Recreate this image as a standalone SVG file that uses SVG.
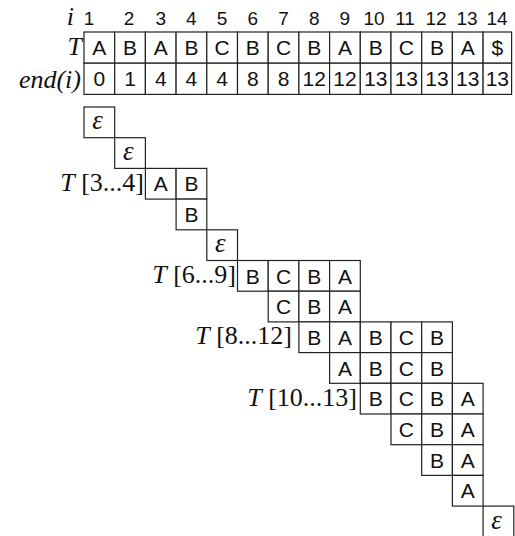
<svg xmlns="http://www.w3.org/2000/svg" width="515" height="536" viewBox="0 0 515 536">
<style>
rect.c{fill:#fff;stroke:#222;stroke-width:1.2}
text{fill:#111}
.l{font-family:"Liberation Sans",Arial,sans-serif;font-size:21px;text-anchor:middle}
.n{font-family:"Liberation Sans",Arial,sans-serif;font-size:19px;text-anchor:middle}
.s{font-family:"Liberation Serif","Times New Roman",serif;font-size:26px;text-anchor:end}
.it{font-style:italic}
.e{font-family:"Liberation Serif","Times New Roman",serif;font-size:27px;font-style:italic;text-anchor:middle}
</style>
<rect width="515" height="536" fill="#fff"/>
<g id="index-row">
<text class="s it" x="74" y="25" font-size="25">i</text>
<text class="n" x="89" y="25">1</text><text class="n" x="129" y="25">2</text><text class="n" x="160.7" y="25">3</text><text class="n" x="191.4" y="25">4</text><text class="n" x="222.1" y="25">5</text><text class="n" x="252.8" y="25">6</text><text class="n" x="283.5" y="25">7</text><text class="n" x="314.2" y="25">8</text><text class="n" x="344.9" y="25">9</text><text class="n" x="374" y="25">10</text><text class="n" x="405" y="25">11</text><text class="n" x="436" y="25">12</text><text class="n" x="467" y="25">13</text><text class="n" x="497" y="25">14</text>
</g>
<g id="T-row">
<text class="s it" x="82" y="55">T</text>
<rect class="c" x="84" y="32" width="30.7" height="31.2"/><rect class="c" x="114.7" y="32" width="30.7" height="31.2"/><rect class="c" x="145.4" y="32" width="30.7" height="31.2"/><rect class="c" x="176.1" y="32" width="30.7" height="31.2"/><rect class="c" x="206.8" y="32" width="30.7" height="31.2"/><rect class="c" x="237.5" y="32" width="30.7" height="31.2"/><rect class="c" x="268.2" y="32" width="30.7" height="31.2"/><rect class="c" x="298.9" y="32" width="30.7" height="31.2"/><rect class="c" x="329.6" y="32" width="30.7" height="31.2"/><rect class="c" x="360.3" y="32" width="30.7" height="31.2"/><rect class="c" x="391" y="32" width="30.7" height="31.2"/><rect class="c" x="421.7" y="32" width="30.7" height="31.2"/><rect class="c" x="452.4" y="32" width="30.7" height="31.2"/><rect class="c" x="483.1" y="32" width="28.5" height="31.2"/>
<text class="l" x="99.35" y="55">A</text><text class="l" x="130.05" y="55">B</text><text class="l" x="160.75" y="55">A</text><text class="l" x="191.45" y="55">B</text><text class="l" x="222.15" y="55">C</text><text class="l" x="252.85" y="55">B</text><text class="l" x="283.55" y="55">C</text><text class="l" x="314.25" y="55">B</text><text class="l" x="344.95" y="55">A</text><text class="l" x="375.65" y="55">B</text><text class="l" x="406.35" y="55">C</text><text class="l" x="437.05" y="55">B</text><text class="l" x="467.75" y="55">A</text><text class="l" x="497.35" y="55">$</text>
</g>
<g id="end-row">
<text class="s it" x="81" y="88">end(i)</text>
<rect class="c" x="84" y="63.2" width="30.7" height="31.2"/><rect class="c" x="114.7" y="63.2" width="30.7" height="31.2"/><rect class="c" x="145.4" y="63.2" width="30.7" height="31.2"/><rect class="c" x="176.1" y="63.2" width="30.7" height="31.2"/><rect class="c" x="206.8" y="63.2" width="30.7" height="31.2"/><rect class="c" x="237.5" y="63.2" width="30.7" height="31.2"/><rect class="c" x="268.2" y="63.2" width="30.7" height="31.2"/><rect class="c" x="298.9" y="63.2" width="30.7" height="31.2"/><rect class="c" x="329.6" y="63.2" width="30.7" height="31.2"/><rect class="c" x="360.3" y="63.2" width="30.7" height="31.2"/><rect class="c" x="391" y="63.2" width="30.7" height="31.2"/><rect class="c" x="421.7" y="63.2" width="30.7" height="31.2"/><rect class="c" x="452.4" y="63.2" width="30.7" height="31.2"/><rect class="c" x="483.1" y="63.2" width="28.5" height="31.2"/>
<text class="l" x="99.35" y="86.2">0</text><text class="l" x="130.05" y="86.2">1</text><text class="l" x="160.75" y="86.2">4</text><text class="l" x="191.45" y="86.2">4</text><text class="l" x="222.15" y="86.2">4</text><text class="l" x="252.85" y="86.2">8</text><text class="l" x="283.55" y="86.2">8</text><text class="l" x="314.25" y="86.2">12</text><text class="l" x="344.95" y="86.2">12</text><text class="l" x="375.65" y="86.2">13</text><text class="l" x="406.35" y="86.2">13</text><text class="l" x="437.05" y="86.2">13</text><text class="l" x="467.75" y="86.2">13</text><text class="l" x="497.35" y="86.2">13</text>
</g>
<g id="row0"><rect class="c" x="84" y="107" width="30.7" height="30.7"/><text class="e" x="97.5" y="129">ε</text></g>
<g id="row1"><rect class="c" x="114.7" y="137.7" width="30.7" height="30.7"/><text class="e" x="128.2" y="159.7">ε</text></g>
<g id="row2"><text class="s" x="144" y="190.5"><tspan font-style="italic">T</tspan> [3...4]</text>
<rect class="c" x="145.4" y="168.4" width="30.7" height="30.7"/><rect class="c" x="176.1" y="168.4" width="30.7" height="30.7"/>
<text class="l" x="160.75" y="191.4">A</text><text class="l" x="191.45" y="191.4">B</text></g>
<g id="row3"><rect class="c" x="176.1" y="199.1" width="30.7" height="30.7"/><text class="l" x="191.45" y="222.1">B</text></g>
<g id="row4"><rect class="c" x="206.8" y="229.8" width="30.7" height="30.7"/><text class="e" x="220.3" y="251.8">ε</text></g>
<g id="row5"><text class="s" x="236" y="283"><tspan font-style="italic">T</tspan> [6...9]</text>
<rect class="c" x="237.5" y="260.5" width="30.7" height="30.7"/><rect class="c" x="268.2" y="260.5" width="30.7" height="30.7"/><rect class="c" x="298.9" y="260.5" width="30.7" height="30.7"/><rect class="c" x="329.6" y="260.5" width="30.7" height="30.7"/>
<text class="l" x="252.85" y="283.5">B</text><text class="l" x="283.55" y="283.5">C</text><text class="l" x="314.25" y="283.5">B</text><text class="l" x="344.95" y="283.5">A</text></g>
<g id="row6"><rect class="c" x="268.2" y="291.2" width="30.7" height="30.7"/><rect class="c" x="298.9" y="291.2" width="30.7" height="30.7"/><rect class="c" x="329.6" y="291.2" width="30.7" height="30.7"/>
<text class="l" x="283.55" y="314.2">C</text><text class="l" x="314.25" y="314.2">B</text><text class="l" x="344.95" y="314.2">A</text></g>
<g id="row7"><text class="s" x="292" y="344.4"><tspan font-style="italic">T</tspan> [8...12]</text>
<rect class="c" x="298.9" y="321.9" width="30.7" height="30.7"/><rect class="c" x="329.6" y="321.9" width="30.7" height="30.7"/><rect class="c" x="360.3" y="321.9" width="30.7" height="30.7"/><rect class="c" x="391" y="321.9" width="30.7" height="30.7"/><rect class="c" x="421.7" y="321.9" width="30.7" height="30.7"/>
<text class="l" x="314.25" y="344.9">B</text><text class="l" x="344.95" y="344.9">A</text><text class="l" x="375.65" y="344.9">B</text><text class="l" x="406.35" y="344.9">C</text><text class="l" x="437.05" y="344.9">B</text></g>
<g id="row8"><rect class="c" x="329.6" y="352.6" width="30.7" height="30.7"/><rect class="c" x="360.3" y="352.6" width="30.7" height="30.7"/><rect class="c" x="391" y="352.6" width="30.7" height="30.7"/><rect class="c" x="421.7" y="352.6" width="30.7" height="30.7"/>
<text class="l" x="344.95" y="375.6">A</text><text class="l" x="375.65" y="375.6">B</text><text class="l" x="406.35" y="375.6">C</text><text class="l" x="437.05" y="375.6">B</text></g>
<g id="row9"><text class="s" x="357" y="405.8"><tspan font-style="italic">T</tspan> [10...13]</text>
<rect class="c" x="360.3" y="383.3" width="30.7" height="30.7"/><rect class="c" x="391" y="383.3" width="30.7" height="30.7"/><rect class="c" x="421.7" y="383.3" width="30.7" height="30.7"/><rect class="c" x="452.4" y="383.3" width="30.7" height="30.7"/>
<text class="l" x="375.65" y="406.3">B</text><text class="l" x="406.35" y="406.3">C</text><text class="l" x="437.05" y="406.3">B</text><text class="l" x="467.75" y="406.3">A</text></g>
<g id="row10"><rect class="c" x="391" y="414" width="30.7" height="30.7"/><rect class="c" x="421.7" y="414" width="30.7" height="30.7"/><rect class="c" x="452.4" y="414" width="30.7" height="30.7"/>
<text class="l" x="406.35" y="437">C</text><text class="l" x="437.05" y="437">B</text><text class="l" x="467.75" y="437">A</text></g>
<g id="row11"><rect class="c" x="421.7" y="444.7" width="30.7" height="30.7"/><rect class="c" x="452.4" y="444.7" width="30.7" height="30.7"/>
<text class="l" x="437.05" y="467.7">B</text><text class="l" x="467.75" y="467.7">A</text></g>
<g id="row12"><rect class="c" x="452.4" y="475.4" width="30.7" height="30.7"/><text class="l" x="467.75" y="498.4">A</text></g>
<g id="row13"><rect class="c" x="483.1" y="506.1" width="30.7" height="30.7"/><text class="e" x="496.6" y="529">ε</text></g>
</svg>
